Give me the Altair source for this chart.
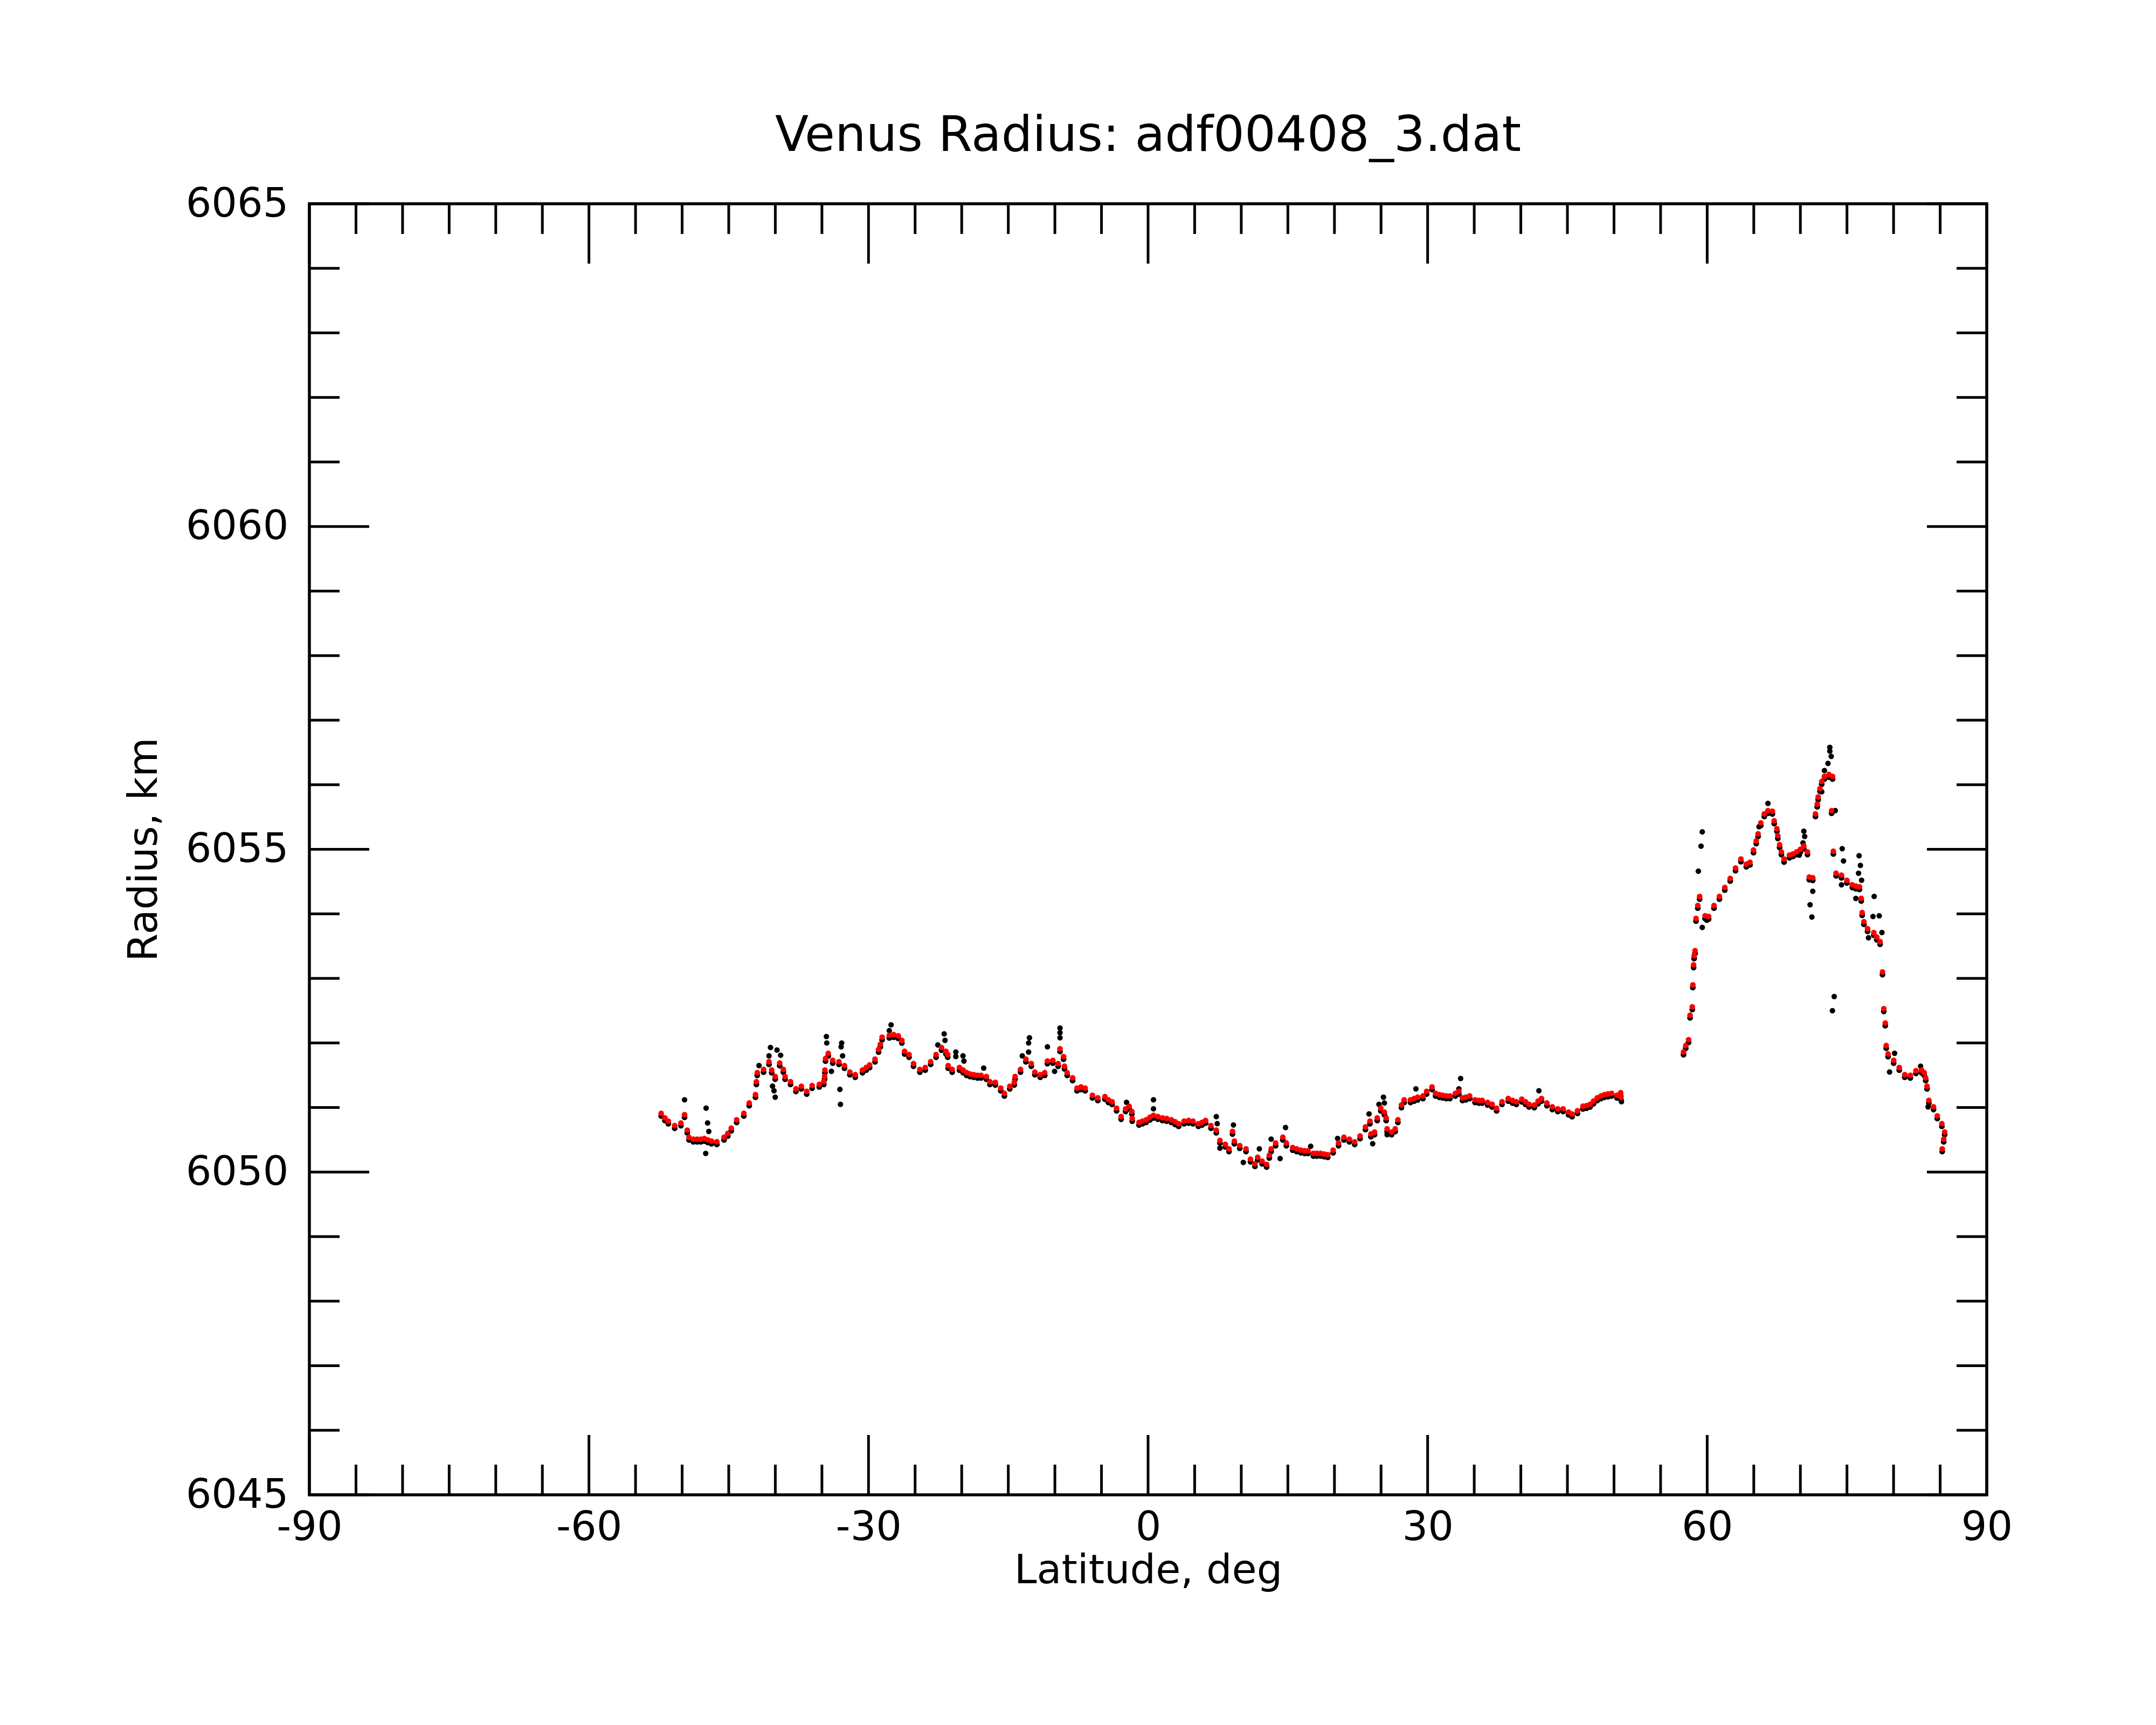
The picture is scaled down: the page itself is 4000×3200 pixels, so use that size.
import altair as alt
import pandas as pd

# ---- data ----
# smoothed (red) profile: latitude (deg) and radius (km)
fit_lat = [
    -52.25, -51.85, -51.48, -50.80, -50.13, -49.74, -49.45, -49.26, -48.80, -48.39,
    -48.00, -47.62, -47.25, -46.85, -46.27, -45.50, -45.10, -44.73, -44.15, -43.38,
    -42.80, -42.13, -42.03, -41.94, -41.26, -40.68, -40.39, -40.01, -39.53, -39.14,
    -38.95, -38.37, -37.79, -37.21, -36.63, -36.05, -35.28, -34.80, -34.71, -34.68,
    -34.61, -34.32, -33.84, -33.17, -32.58, -32.00, -31.42, -30.65, -30.25, -29.88,
    -29.30, -28.92, -28.73, -28.54, -27.77, -27.30, -26.80, -26.42, -26.13, -25.65,
    -25.17, -24.49, -23.91, -23.33, -22.75, -22.17, -21.69, -21.50, -21.45, -21.02,
    -20.24, -19.85, -19.47, -19.10, -18.70, -18.30, -17.93, -17.35, -16.97, -16.39,
    -15.81, -15.42, -14.84, -14.36, -14.27, -13.69, -13.11, -12.53, -12.15, -11.57,
    -11.09, -10.80, -10.22, -9.65, -9.45, -9.07, -8.97, -8.68, -8.10, -7.62,
    -7.20, -6.75, -5.97, -5.39, -4.63, -4.25, -3.86, -3.38, -2.89, -2.41,
    -2.03, -1.74, -1.70, -0.97, -0.60, -0.20, 0.20, 0.58, 1.05, 1.54,
    2.00, 2.50, 2.90, 3.28, 3.86, 4.35, 4.82, 5.40, 5.80, 6.17,
    6.75, 7.32, 7.71, 8.29, 8.68, 9.06, 9.26, 9.84, 10.51, 10.99,
    11.47, 11.76, 12.24, 12.72, 13.01, 13.21, 13.69, 14.46, 14.84, 15.52,
    15.95, 16.39, 16.80, 17.16, 17.74, 18.10, 18.51, 18.90, 19.28, 19.86,
    20.44, 21.02, 21.60, 22.17, 22.75, 23.33, 23.81, 23.91, 24.30, 24.59,
    24.97, 25.36, 25.55, 25.65, 26.13, 26.52, 26.81, 27.19, 27.48, 28.16,
    28.55, 28.93, 29.50, 29.89, 30.47, 30.85, 31.25, 31.62, 32.00, 32.39,
    32.97, 33.35, 33.74, 34.10, 34.51, 35.09, 35.50, 35.86, 36.44, 36.92,
    37.40, 37.98, 38.65, 39.10, 39.52, 40.10, 40.50, 40.88, 41.45, 41.85,
    42.22, 42.80, 43.38, 43.96, 44.54, 45.12, 45.50, 46.08, 46.66, 47.05,
    47.43, 47.80, 48.20, 48.60, 48.97, 49.35, 49.74, 50.32, 50.71, 50.75,
    57.46, 57.70, 58.00, 58.16, 58.40, 58.46, 58.54, 58.60, 58.70, 58.80,
    58.99, 59.19, 59.77, 60.15, 60.73, 61.31, 61.89, 62.47, 63.04, 63.62,
    64.20, 64.59, 64.97, 65.26, 65.46, 65.75, 66.13, 66.52, 67.00, 67.19,
    67.48, 67.58, 67.77, 67.96, 68.25, 68.83, 69.20, 69.60, 70.00, 70.37,
    70.76, 70.95, 71.33, 71.62, 71.81, 71.91, 72.10, 72.29, 72.58, 73.06,
    73.45, 73.35, 73.54, 73.83, 74.41, 74.99, 75.57, 75.95, 76.34, 76.53,
    76.63, 76.82, 77.21, 77.88, 78.20, 78.55, 78.81, 78.95, 79.11, 79.21,
    79.41, 80.01, 80.61, 81.20, 81.80, 82.40, 83.00, 83.29, 83.45, 83.59,
    83.79, 84.29, 84.69, 85.18, 85.48, 85.38, 85.22,
]
fit_rad = [
    6050.91, 6050.84, 6050.79, 6050.72, 6050.76, 6050.89, 6050.65, 6050.54, 6050.51, 6050.51,
    6050.51, 6050.52, 6050.50, 6050.48, 6050.47, 6050.54, 6050.60, 6050.68, 6050.81, 6050.91,
    6051.07, 6051.20, 6051.40, 6051.54, 6051.59, 6051.71, 6051.58, 6051.48, 6051.69, 6051.59,
    6051.48, 6051.40, 6051.29, 6051.33, 6051.25, 6051.34, 6051.36, 6051.40, 6051.48, 6051.58,
    6051.76, 6051.84, 6051.73, 6051.71, 6051.65, 6051.55, 6051.51, 6051.58, 6051.62, 6051.66,
    6051.75, 6051.90, 6051.98, 6052.09, 6052.12, 6052.13, 6052.11, 6052.04, 6051.87, 6051.82,
    6051.68, 6051.59, 6051.62, 6051.71, 6051.82, 6051.93, 6051.87, 6051.82, 6051.65, 6051.59,
    6051.62, 6051.58, 6051.54, 6051.52, 6051.51, 6051.50, 6051.50, 6051.48, 6051.40, 6051.39,
    6051.30, 6051.22, 6051.33, 6051.39, 6051.48, 6051.59, 6051.75, 6051.68, 6051.55, 6051.51,
    6051.54, 6051.72, 6051.73, 6051.68, 6051.91, 6051.79, 6051.64, 6051.54, 6051.46, 6051.30,
    6051.32, 6051.30, 6051.19, 6051.15, 6051.17, 6051.12, 6051.09, 6050.99, 6050.86, 6050.98,
    6051.02, 6050.94, 6050.83, 6050.77, 6050.79, 6050.81, 6050.85, 6050.88, 6050.86, 6050.84,
    6050.83, 6050.81, 6050.78, 6050.75, 6050.79, 6050.80, 6050.79, 6050.75, 6050.77, 6050.80,
    6050.72, 6050.65, 6050.49, 6050.43, 6050.36, 6050.63, 6050.48, 6050.41, 6050.36, 6050.20,
    6050.13, 6050.23, 6050.17, 6050.12, 6050.26, 6050.36, 6050.45, 6050.54, 6050.45, 6050.38,
    6050.36, 6050.34, 6050.33, 6050.33, 6050.29, 6050.29, 6050.29, 6050.28, 6050.27, 6050.34,
    6050.45, 6050.54, 6050.51, 6050.47, 6050.56, 6050.70, 6050.79, 6050.59, 6050.62, 6050.84,
    6050.99, 6050.93, 6050.84, 6050.67, 6050.62, 6050.67, 6050.81, 6051.04, 6051.12, 6051.12,
    6051.14, 6051.16, 6051.18, 6051.25, 6051.32, 6051.22, 6051.20, 6051.19, 6051.18, 6051.18,
    6051.22, 6051.25, 6051.15, 6051.16, 6051.18, 6051.12, 6051.11, 6051.11, 6051.08, 6051.05,
    6050.99, 6051.09, 6051.14, 6051.11, 6051.09, 6051.13, 6051.09, 6051.05, 6051.04, 6051.10,
    6051.14, 6051.07, 6051.01, 6050.98, 6050.98, 6050.93, 6050.90, 6050.95, 6051.02, 6051.03,
    6051.05, 6051.10, 6051.15, 6051.18, 6051.20, 6051.21, 6051.22, 6051.19, 6051.23, 6051.16,
    6051.86, 6051.96, 6052.05, 6052.43, 6052.56, 6052.90, 6053.21, 6053.35, 6053.43, 6053.93,
    6054.13, 6054.27, 6053.97, 6053.96, 6054.13, 6054.27, 6054.41, 6054.55, 6054.71, 6054.85,
    6054.77, 6054.80, 6054.99, 6055.13, 6055.24, 6055.41, 6055.55, 6055.60, 6055.59, 6055.44,
    6055.32, 6055.21, 6055.07, 6054.96, 6054.85, 6054.91, 6054.93, 6054.96, 6055.00, 6055.05,
    6054.96, 6054.57, 6054.56, 6055.55, 6055.70, 6055.81, 6055.94, 6056.05, 6056.13, 6056.16,
    6056.13, 6055.60, 6054.97, 6054.63, 6054.60, 6054.52, 6054.45, 6054.43, 6054.42, 6054.24,
    6054.02, 6053.88, 6053.77, 6053.71, 6053.64, 6053.57, 6053.10, 6052.53, 6052.31, 6051.96,
    6051.83, 6051.73, 6051.62, 6051.51, 6051.50, 6051.57, 6051.58, 6051.54, 6051.46, 6051.33,
    6051.11, 6051.01, 6050.87, 6050.75, 6050.62, 6050.51, 6050.36,
]

# raw (black) points that stand away from the red profile
raw_lat = [
    -49.74, -47.43, -47.27, -47.14, -47.47, -40.52, -40.68, -39.82, -39.43, -40.30,
    -40.14, -40.01, -41.75, -34.52, -34.48, -32.88, -32.94, -32.78, -33.98, -33.07,
    -33.01, -27.58, -27.77, -21.88, -21.79, -22.56, -20.63, -20.63, -19.86, -19.76,
    -17.64, -12.73, -12.82, -12.82, -13.50, -10.80, -9.45, -9.45, -9.45, -10.03,
    0.58, 0.58, -2.31, 7.32, 7.42, 9.16, 7.71, 10.22, 11.94, 14.17,
    14.75, 13.21, 17.45, 20.34, 23.71, 24.10, 24.78, 25.26, 25.36, 28.74,
    33.54, 33.35, 25.65, 41.94, 50.80,
    59.47, 59.34, 59.05, 59.47, 59.96, 66.52, 65.56, 68.25, 70.37, 70.46,
    70.28, 69.89, 71.33, 71.04, 71.23, 73.16, 73.16, 73.31, 72.96, 72.58,
    72.29, 73.74, 74.49, 74.63, 74.41, 76.30, 76.44, 76.24, 76.57, 75.95,
    77.92, 77.79, 78.46, 78.75, 77.31, 73.63, 73.44, 80.11, 79.57, 82.90,
    83.70,
]
raw_rad = [
    6051.12, 6050.99, 6050.76, 6050.63, 6050.29, 6051.93, 6051.80, 6051.89, 6051.81, 6051.33,
    6051.26, 6051.16, 6051.65, 6052.10, 6052.00, 6052.00, 6051.94, 6051.80, 6051.56, 6051.28,
    6051.05, 6052.28, 6052.19, 6052.14, 6052.04, 6051.97, 6051.86, 6051.79, 6051.80, 6051.72,
    6051.61, 6052.08, 6052.00, 6051.86, 6051.80, 6051.94, 6052.23, 6052.16, 6052.08, 6051.56,
    6051.12, 6050.98, 6051.08, 6050.86, 6050.75, 6050.73, 6050.37, 6050.15, 6050.36, 6050.21,
    6050.69, 6050.51, 6050.40, 6050.52, 6050.90, 6050.44, 6051.05, 6051.16, 6051.07, 6051.29,
    6051.45, 6051.29, 6050.58, 6051.26, 6051.09,
    6055.27, 6055.05, 6054.66, 6053.79, 6053.90, 6055.71, 6055.35, 6054.80, 6055.28, 6055.20,
    6055.10, 6054.91, 6054.35, 6054.14, 6053.95, 6056.58, 6056.52, 6056.44, 6056.33, 6056.22,
    6055.89, 6055.60, 6055.01, 6054.82, 6054.45, 6054.90, 6054.75, 6054.63, 6054.52, 6054.24,
    6054.27, 6053.96, 6053.97, 6053.71, 6053.63, 6052.72, 6052.50, 6051.84, 6051.55, 6051.64,
    6051.01,
]

# axis ticks
x_major = [-90, -60, -30, 0, 30, 60, 90]
x_minor = [-85, -80, -75, -70, -65, -55, -50, -45, -40, -35, -25, -20, -15, -10, -5,
           5, 10, 15, 20, 25, 35, 40, 45, 50, 55, 65, 70, 75, 80, 85]
y_major = [6045, 6050, 6055, 6060, 6065]
y_minor = [6046, 6047, 6048, 6049, 6051, 6052, 6053, 6054, 6056, 6057, 6058, 6059,
           6061, 6062, 6063, 6064]

# ---- build chart ----
W, H = 3112, 2395
MAJ, MIN = 111, 56
FONT = "DejaVu Sans"

fit_df = pd.DataFrame({"lat": fit_lat, "radius": fit_rad})
raw_df = pd.DataFrame({"lat": raw_lat, "radius": raw_rad})

xs = alt.Scale(domain=[-90, 90], nice=False, zero=False)
ys = alt.Scale(domain=[6045, 6065], nice=False, zero=False)

x_axis = alt.Axis(values=x_major, title="Latitude, deg", labelExpr="toString(datum.value)",
                  ticks=False, domain=False, grid=False, labelFlush=False,
                  labelOverlap=False, labelPadding=24, titlePadding=6, labelLimit=0)
y_axis = alt.Axis(values=y_major, title="Radius, km", labelExpr="toString(datum.value)",
                  ticks=False, domain=False, grid=False, labelFlush=False,
                  labelOverlap=False, labelPadding=39, titlePadding=68, labelLimit=0)

X = alt.X("lat:Q", scale=xs, axis=x_axis)
Y = alt.Y("radius:Q", scale=ys, axis=y_axis)

shadow = alt.Chart(fit_df).mark_circle(color="black", size=115, opacity=1, yOffset=5).encode(x=X, y=Y)
raw = alt.Chart(raw_df).mark_circle(color="black", size=105, opacity=1).encode(x=X, y=Y)
fit = alt.Chart(fit_df).mark_circle(color="#ff0000", size=110, opacity=1).encode(x=X, y=Y)

def xticks(vals, length):
    d = pd.DataFrame({"lat": vals})
    bottom = alt.Chart(d).mark_rule(color="black", strokeWidth=5).encode(
        x=X, y=alt.value(H), y2=alt.value(H - length))
    top = alt.Chart(d).mark_rule(color="black", strokeWidth=5).encode(
        x=X, y=alt.value(0), y2=alt.value(length))
    return [bottom, top]

def yticks(vals, length):
    d = pd.DataFrame({"radius": vals})
    left = alt.Chart(d).mark_rule(color="black", strokeWidth=5).encode(
        y=Y, x=alt.value(0), x2=alt.value(length))
    right = alt.Chart(d).mark_rule(color="black", strokeWidth=5).encode(
        y=Y, x=alt.value(W), x2=alt.value(W - length))
    return [left, right]

layers = [shadow, raw, fit] + xticks(x_major, MAJ) + xticks(x_minor, MIN) \
    + yticks(y_major, MAJ) + yticks(y_minor, MIN)

chart = alt.layer(*layers).properties(
    width=W, height=H,
    title=alt.TitleParams("Venus Radius: adf00408_3.dat", fontSize=91, font=FONT,
                          fontWeight="normal", color="black", anchor="middle",
                          baseline="alphabetic", offset=97, dy=127),
    padding={"left": 566, "top": 370, "right": 300, "bottom": 400},
    autosize=alt.AutoSizeParams(type="none"),
    background="white",
).configure_view(
    stroke="black", strokeWidth=5.5
).configure_axis(
    labelFont=FONT, titleFont=FONT, labelFontSize=75, titleFontSize=75,
    labelColor="black", titleColor="black", titleFontWeight="normal"
)

chart.save("out.html", embed_options={"renderer": "svg", "actions": False})
